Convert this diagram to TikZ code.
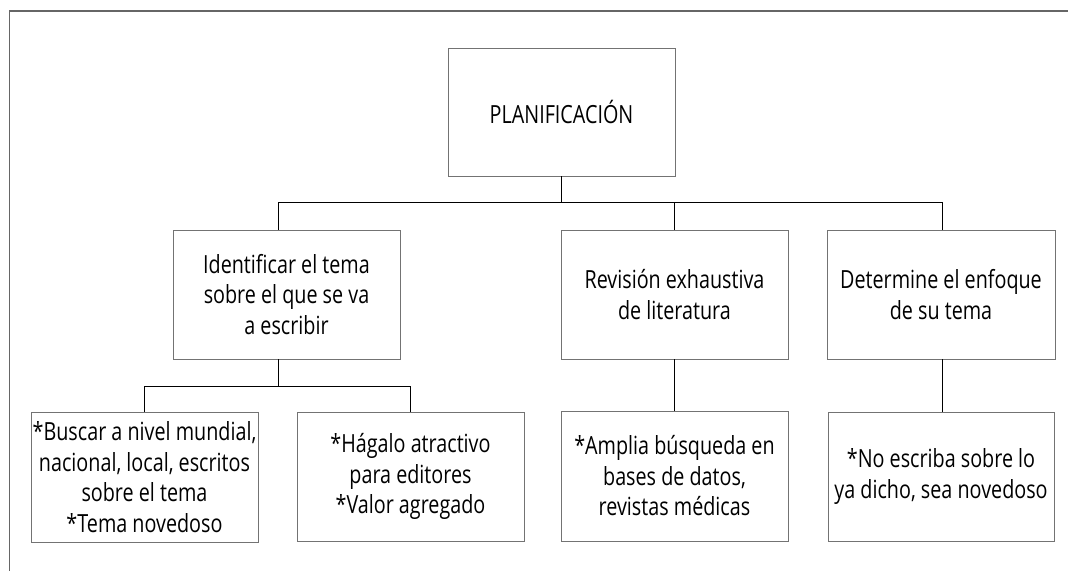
\documentclass[tikz,border=0pt]{standalone}
\usepackage{fontspec}
\setmainfont{Open Sans}[FakeStretch=0.79]
\begin{document}
\begin{tikzpicture}[x=1pt,y=-1pt,
  box/.style={draw=black!55, line width=0.9pt, inner sep=0pt, align=center,
    minimum width=227pt, minimum height=129pt,
    font=\fontsize{25}{30.5}\selectfont},
  link/.style={draw=black, line width=1pt},
  frame/.style={draw=black!60, line width=1.4pt}]
\useasboundingbox (0,0) rectangle (1068,571);
\draw[frame] (1068,11) -- (9.5,11) -- (9.5,571);

\node[box, minimum height=128pt] (plan) at (561.5,112) {PLANIFICACIÓN};
\node[box] (id)  at (286.5,294.5) {Identificar el tema\\sobre el que se va\\a escribir};
\node[box] (rev) at (674.5,294.5) {Revisión exhaustiva\\de literatura};
\node[box, minimum width=228pt] (det) at (941,294.5) {Determine el enfoque\\de su tema};
\node[box, minimum height=130pt] (bus) at (144.5,477) {*Buscar a nivel mundial,\\nacional, local, escritos\\sobre el tema\\*Tema novedoso};
\node[box] (hag) at (410.5,476.5) {*Hágalo atractivo\\para editores\\*Valor agregado};
\node[box, minimum height=130pt] (amp) at (674.5,476) {*Amplia búsqueda en\\bases de datos,\\revistas médicas};
\node[box, minimum width=226pt] (noe) at (941,476.5) {*No escriba sobre lo\\ya dicho, sea novedoso};

\coordinate (b1) at (278,202);
\coordinate (b2) at (942,202);
\coordinate (c1) at (144.5,386);
\coordinate (c2) at (410.5,386);

\draw[link] (plan.south) -- (plan.south|-b1);
\draw[link] (b1) -- (b2);
\draw[link] (b1) -- (b1|-id.north);
\draw[link] (rev.north) -- (rev.north|-b1);
\draw[link] (b2) -- (b2|-det.north);

\draw[link] (b1|-id.south) -- (b1|-c1);
\draw[link] (c1) -- (c2);
\draw[link] (c1) -- (bus.north);
\draw[link] (c2) -- (hag.north);
\draw[link] (rev.south) -- (amp.north);
\draw[link] (b2|-det.south) -- (b2|-noe.north);
\end{tikzpicture}
\end{document}
